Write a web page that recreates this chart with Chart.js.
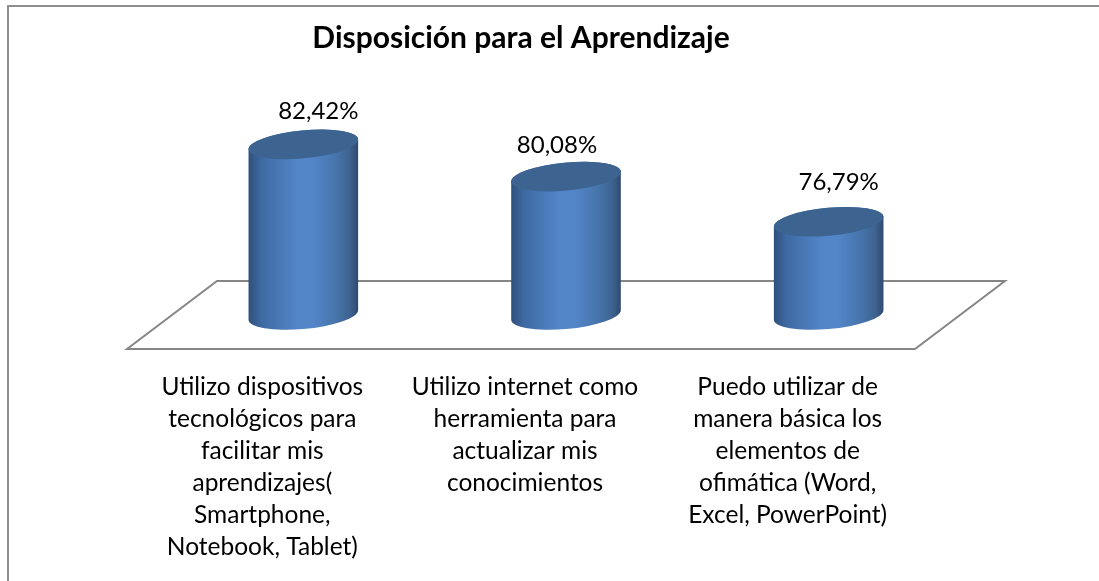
<!DOCTYPE html>
<html lang="es">
<head>
<meta charset="utf-8">
<title>Disposición para el Aprendizaje</title>
<script src="https://cdn.jsdelivr.net/npm/chart.js@4"></script>
<style>
    html, body { margin: 0; padding: 0; background: #fff; }
    canvas { display: block; }
</style>
</head>
<body>
<canvas id="chart" width="1099" height="581"></canvas>
<script>
const chartTitle = 'Disposición para el Aprendizaje';
const categories = [
    ['Utilizo dispositivos', 'tecnológicos para', 'facilitar mis', 'aprendizajes(', 'Smartphone,', 'Notebook, Tablet)'],
    ['Utilizo internet como', 'herramienta para', 'actualizar mis', 'conocimientos'],
    ['Puedo utilizar de', 'manera básica los', 'elementos de', 'ofimática (Word,', 'Excel, PowerPoint)']
];
const values = [82.42, 80.08, 76.79];
// data labels were moved by hand in the original
const labelNudge = [[15, -33], [-9, -31], [10, -39]];

const fontFamily = 'Lato, "Open Sans", sans-serif';
const depth = { x: 90, y: 68 };
const tilt = -0.094;

function cylinder(ctx, cx, topY, baseY, width) {
    const a = width / 2;
    const b = 14;
    // angle on the ellipse where the side walls touch it
    const t0 = Math.atan((b / a) * Math.tan(-tilt));

    const grad = ctx.createLinearGradient(cx - a, 0, cx + a, 0);
    grad.addColorStop(0, '#2f4f7a');
    grad.addColorStop(0.12, '#3e6aa3');
    grad.addColorStop(0.45, '#5386c9');
    grad.addColorStop(0.58, '#5386c9');
    grad.addColorStop(0.8, '#4674aa');
    grad.addColorStop(0.92, '#3e6390');
    grad.addColorStop(1, '#2d4a6e');

    ctx.beginPath();
    ctx.ellipse(cx, baseY, a, b, tilt, t0, t0 + Math.PI);
    ctx.ellipse(cx, topY, a, b, tilt, t0 + Math.PI, t0 + 2 * Math.PI);
    ctx.closePath();
    ctx.fillStyle = grad;
    ctx.fill();

    ctx.beginPath();
    ctx.ellipse(cx, topY, a, b, tilt, 0, 2 * Math.PI);
    ctx.fillStyle = '#3d6491';
    ctx.fill();
}

const sheetPlugin = {
    id: 'sheet',
    beforeDraw(chart) {
        const ctx = chart.ctx;
        ctx.save();
        ctx.strokeStyle = '#8e8e8e';
        ctx.lineWidth = 2;
        ctx.beginPath();
        ctx.moveTo(8, 581);
        ctx.lineTo(8, 6);
        ctx.lineTo(1099, 6);
        ctx.stroke();
        ctx.restore();
    }
};

const floorPlugin = {
    id: 'floor',
    beforeDatasetsDraw(chart) {
        const { ctx, chartArea } = chart;
        const { left, right, bottom } = chartArea;
        ctx.save();
        ctx.strokeStyle = '#868686';
        ctx.lineWidth = 2;
        ctx.lineJoin = 'miter';
        ctx.beginPath();
        ctx.moveTo(left, bottom);
        ctx.lineTo(left + depth.x, bottom - depth.y);
        ctx.lineTo(right + depth.x, bottom - depth.y);
        ctx.lineTo(right, bottom);
        ctx.closePath();
        ctx.stroke();
        ctx.restore();
    }
};

const cylinderPlugin = {
    id: 'cylinders',
    afterDatasetsDraw(chart) {
        const ctx = chart.ctx;
        const bars = chart.getDatasetMeta(0).data;
        const bottom = chart.chartArea.bottom;
        ctx.save();
        bars.forEach((bar, i) => {
            // bars stand half way into the floor
            const cx = bar.x + depth.x / 2;
            const topY = bar.y - depth.y / 2;
            const baseY = bottom - depth.y / 2;
            cylinder(ctx, cx, topY, baseY, bar.width);

            ctx.fillStyle = '#000';
            ctx.font = '24px ' + fontFamily;
            ctx.textAlign = 'center';
            ctx.textBaseline = 'middle';
            const text = values[i].toFixed(2).replace('.', ',') + '%';
            ctx.fillText(text, cx + labelNudge[i][0], topY + labelNudge[i][1]);
        });
        ctx.restore();
    }
};

new Chart(document.getElementById('chart').getContext('2d'), {
    type: 'bar',
    data: {
        labels: categories,
        datasets: [{
            data: values,
            backgroundColor: 'transparent',
            categoryPercentage: 1,
            barPercentage: 0.419
        }]
    },
    options: {
        responsive: false,
        animation: false,
        layout: { padding: { left: 127, right: 184, top: 20 } },
        plugins: {
            legend: { display: false },
            tooltip: { enabled: false },
            title: {
                display: true,
                text: chartTitle,
                fullSize: false,
                color: '#000',
                font: { family: fontFamily, size: 30, weight: 'bold' },
                padding: { top: 0, bottom: 87 }
            }
        },
        scales: {
            x: {
                afterFit(scale) { scale.height = 232; },
                grid: { display: false },
                border: { display: false },
                ticks: {
                    color: '#000',
                    font: { family: fontFamily, size: 24.5, lineHeight: 1.31 },
                    padding: 14,
                    labelOffset: 4,
                    maxRotation: 0,
                    autoSkip: false
                }
            },
            y: {
                display: false,
                min: 70,
                max: 85
            }
        }
    },
    plugins: [sheetPlugin, floorPlugin, cylinderPlugin]
});
</script>
</body>
</html>
